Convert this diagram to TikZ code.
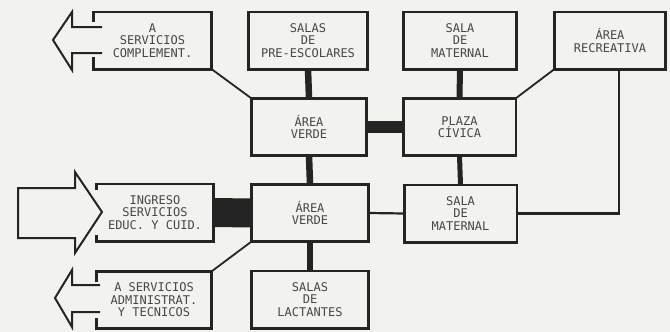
\documentclass[tikz,border=0pt]{standalone}
\usepackage{fontspec}
\newfontfamily\lettering{DejaVu Sans Mono}
\definecolor{bg}{RGB}{242,242,238}
\definecolor{ink}{RGB}{36,36,36}
\definecolor{txt}{RGB}{70,70,70}
\begin{document}
\begin{tikzpicture}[x=1pt,y=-1pt,
  box/.style={draw=ink, line width=2.6pt, fill=bg, outer sep=0pt, inner sep=0pt,
    minimum height=57.4pt, align=center, text=txt,
    font=\lettering\fontsize{12}{12.5}\selectfont},
  openbox/.style={box, draw=none},
  wide/.style={minimum width=117.4pt},
  narrow/.style={minimum width=112.6pt},
  edgeline/.style={draw=ink, line width=2.6pt, line join=miter},
  thinlink/.style={draw=ink, line width=1.8pt},
  midlink/.style={draw=ink, line width=2.8pt},
  thicklink/.style={draw=ink, line width=6.5pt},
  blockarrow/.style={draw=ink, fill=bg, line width=2pt, line join=miter}]
\useasboundingbox[fill=bg] (0,0) rectangle (670,332);

% boxes
\node[openbox, wide, minimum width=118.4pt] (b1) at (152.5,40.5) {A\\SERVICIOS\\COMPLEMENT.};
\node[box, wide, minimum width=119.4pt] (b2) at (308,40.5) {SALAS\\DE\\PRE-ESCOLARES};
\node[box, narrow, minimum width=113.4pt] (b3) at (460,40.5) {SALA\\DE\\MATERNAL};
\node[box, narrow, minimum width=111.4pt] (b4) at (610,40.5) {ÁREA\\RECREATIVA};
\node[box, wide, minimum width=115.4pt] (b5) at (309,127) {ÁREA\\VERDE};
\node[box, narrow] (b6) at (459.5,127) {PLAZA\\CÍVICA};
\node[openbox, wide] (b7) at (155,212.5) {INGRESO\\SERVICIOS\\EDUC. Y CUID.};
\node[box, wide] (b8) at (310,213) {ÁREA\\VERDE};
\node[box, narrow] (b9) at (460.5,213.5) {SALA\\DE\\MATERNAL};
\node[openbox, wide, minimum width=115.4pt] (b10) at (154,300) {A SERVICIOS\\ADMINISTRAT.\\Y TECNICOS};
\node[box, wide] (b11) at (310,299.5) {SALAS\\DE\\LACTANTES};

% borders of the boxes the arrows pass through
\draw[edgeline] ([yshift=-10pt]b1.north west) -- (b1.north west) -- (b1.north east)
  -- (b1.south east) -- (b1.south west) -- ([yshift=12pt]b1.south west);
\draw[edgeline] ([yshift=-6pt]b7.north west) -- (b7.north west) -- (b7.north east)
  -- (b7.south east) -- (b7.south west) -- ([yshift=6pt]b7.south west);
\draw[edgeline] ([yshift=-11pt]b10.north west) -- (b10.north west) -- (b10.north east)
  -- (b10.south east) -- (b10.south west) -- ([yshift=11pt]b10.south west);

% connectors
\draw[thinlink] (b1.south east) -- (b5.north west);
\draw[thicklink] (b2.south) -- (b5.north);
\draw[thicklink, line width=6pt] (b3.south) -- (b6.north);
\draw[thinlink] (b4.south west) -- (b6.north east);
\draw[draw=ink, line width=12pt] (b5.east) -- (b6.west);
\draw[thicklink] (b5.south) -- (b8.north);
\draw[thicklink, line width=5pt] (b6.south) -- (b9.north);
\draw[draw=ink, line width=29pt] (b7.east) -- (b8.west);
\draw[thinlink] (b10.north east) -- (b8.south west);
\draw[thicklink, line width=6pt] (b8.south) -- (b11.north);
\draw[midlink, line width=2.2pt] (b8.east) -- (b9.west);
\draw[midlink, line join=miter] (b9.east) -| ([xshift=9pt]b4.south);

% block arrows
\fill[bg] (102,27) -- (72,27) -- (72,12) -- (53,40) -- (72,70) -- (72,53) -- (102,53) -- cycle;
\draw[blockarrow, fill=none] (102,27) -- (72,27) -- (72,12) -- (53,40) -- (72,70) -- (72,53) -- (102,53);

\draw[blockarrow] (18,188) -- (75,188) -- (75,172) -- (102,212) -- (75,253) -- (75,238) -- (18,238) -- cycle;

\fill[bg] (100,285) -- (72,285) -- (72,270) -- (55,298) -- (72,327) -- (72,312) -- (100,312) -- cycle;
\draw[blockarrow, fill=none] (100,285) -- (72,285) -- (72,270) -- (55,298) -- (72,327) -- (72,312) -- (100,312);
\end{tikzpicture}
\end{document}
